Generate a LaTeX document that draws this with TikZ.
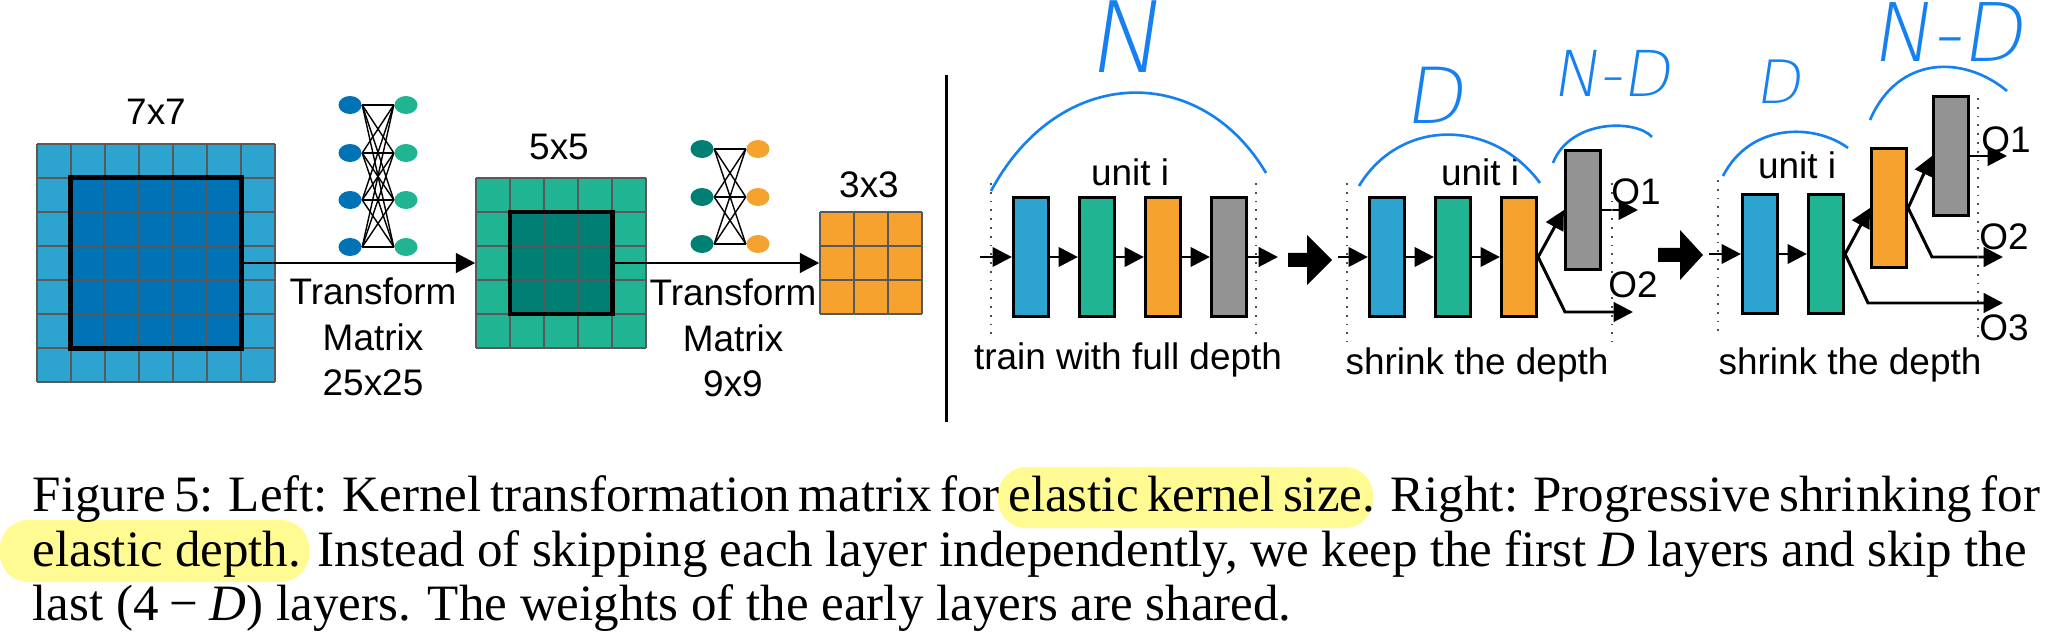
\documentclass[tikz,border=0pt]{standalone}
\usepackage{fontspec}
\setmainfont{Liberation Serif}
\setsansfont{Liberation Sans}
\newfontfamily\handfont{DejaVu Sans ExtraLight}
\usetikzlibrary{arrows.meta,positioning,shapes.geometric}
\definecolor{kblue}{RGB}{45,164,207}
\definecolor{kdblue}{RGB}{0,115,183}
\definecolor{kgreen}{RGB}{32,180,147}
\definecolor{kteal}{RGB}{0,127,116}
\definecolor{korange}{RGB}{246,162,47}
\definecolor{kgray}{RGB}{147,147,147}
\definecolor{kink}{RGB}{22,128,240}
\definecolor{khl}{RGB}{255,250,145}

\begin{document}
\begin{tikzpicture}[x=0.01cm, y=-0.01cm,
    lbl/.style={font=\sffamily\fontsize{10.5}{13}\selectfont, align=center, inner sep=0pt},
    cellline/.style={draw=black!65, line width=0.45pt},
    kbox/.style={rectangle, draw=black, line width=1.4pt, inner sep=0pt},
    neuron/.style={ellipse, minimum width=0.23cm, minimum height=0.18cm, inner sep=0pt},
    wire/.style={black, line width=0.4pt},
    arr/.style={-{Triangle[length=5.5pt, width=5.5pt]}, line width=0.85pt},
    layer/.style={rectangle, draw=black, line width=0.9pt, minimum width=0.35cm, minimum height=1.19cm, inner sep=0pt},
    sep/.style={draw=black!70, dotted, line width=0.5pt},
    ink/.style={draw=kink, line width=0.75pt},
    inktext/.style={text=kink, inner sep=0pt, xslant=0.15},
    capline/.style={font=\fontsize{14.5}{15.5}\selectfont, inner sep=0pt, anchor=base west}
  ]
    \useasboundingbox (0,0) rectangle (2055,640);
    % 7x7 kernel
    \fill[kblue] (37,144) rectangle (275,382);
    \fill[kdblue] (71,178) rectangle (241,348);
    \foreach \i in {0,...,7} {
      \draw[cellline] (37+34*\i,144) -- (37+34*\i,382);
      \draw[cellline] (37,144+34*\i) -- (275,144+34*\i);
    }
    \node[inner sep=0pt, minimum size=2.38cm] (k7) at (156,263) {};
    \node[kbox, minimum size=1.70cm] (k7in) at (156,263) {};
    \node[lbl] (t7) at (156,112) {7x7};
    % first transform net
    \foreach \y [count=\i] in {105,153,200,247} {
      \node[neuron, fill=kdblue] (a\i) at (350,\y) {};
      \node[neuron, fill=kgreen] (b\i) at (406,\y) {};
    }
    \foreach \i in {1,...,4} \foreach \j in {1,...,4}
      \draw[wire] (a\i.east) -- (b\j.west);
    \node[lbl] (m25) at (373,337) {Transform\\Matrix\\25x25};
    % 5x5 kernel
    \fill[kgreen] (476,178) rectangle (646,348);
    \fill[kteal] (510,212) rectangle (612,314);
    \foreach \i in {0,...,5} {
      \draw[cellline] (476+34*\i,178) -- (476+34*\i,348);
      \draw[cellline] (476,178+34*\i) -- (646,178+34*\i);
    }
    \node[inner sep=0pt, minimum size=1.70cm] (k5) at (561,263) {};
    \node[kbox, minimum size=1.02cm] (k5in) at (561,263) {};
    \node[lbl] (t5) at (559,147) {5x5};
    \draw[arr] (k7in.east) -- (k5.west);
    % second transform net
    \foreach \y [count=\i] in {149,197,244} {
      \node[neuron, fill=kteal] (c\i) at (702,\y) {};
      \node[neuron, fill=korange] (d\i) at (758,\y) {};
    }
    \foreach \i in {1,...,3} \foreach \j in {1,...,3}
      \draw[wire] (c\i.east) -- (d\j.west);
    \node[lbl] (m9) at (733,338) {Transform\\Matrix\\9x9};
    % 3x3 kernel
    \fill[korange] (820,212) rectangle (922,314);
    \foreach \i in {0,...,3} {
      \draw[cellline] (820+34*\i,212) -- (820+34*\i,314);
      \draw[cellline] (820,212+34*\i) -- (922,212+34*\i);
    }
    \node[inner sep=0pt, minimum size=1.02cm] (k3) at (871,263) {};
    \node[lbl] (t3) at (869,185) {3x3};
    \draw[arr] (k5in.east) -- (k3.west);
    % divider
    \draw[line width=0.85pt] (946,75) -- (946,422);

    % full depth
    \node[layer, fill=kblue]   (p1a) at (1031,257) {};
    \node[layer, fill=kgreen]  (p1b) at (1097,257) {};
    \node[layer, fill=korange] (p1c) at (1163,257) {};
    \node[layer, fill=kgray]   (p1d) at (1229,257) {};
    \coordinate (p1in) at (980,257);
    \coordinate (p1out) at (1278,257);
    \draw[arr] (p1in) -- (p1a);
    \draw[arr] (p1a) -- (p1b);
    \draw[arr] (p1b) -- (p1c);
    \draw[arr] (p1c) -- (p1d);
    \draw[arr] (p1d) -- (p1out);
    \draw[sep] (991,183) -- (991,339);
    \draw[sep] (1256,183) -- (1256,339);
    \node[lbl] (u1) at (1130,172) {unit i};
    \node[lbl] (s1) at (1128,360) {train with full depth};
    \draw[ink] (991,191) .. controls (1060,63) and (1201,63) .. (1266,173);
    \node[inktext, font={\handfont\fontsize{28}{28}\selectfont}] (n1) at (1130,37) {N};
    \fill (1288,253) -- (1307,253) -- (1307,235) -- (1332,260) -- (1307,285) -- (1307,267) -- (1288,267) -- cycle;

    % shrink once
    \node[layer, fill=kblue]   (p2a) at (1387,257) {};
    \node[layer, fill=kgreen]  (p2b) at (1453,257) {};
    \node[layer, fill=korange] (p2c) at (1519,257) {};
    \node[layer, fill=kgray]   (p2d) at (1583,210) {};
    \coordinate (p2in) at (1338,257);
    \coordinate (p2o1) at (1638,210);
    \coordinate (p2k) at (1565,312);
    \coordinate (p2o2) at (1633,312);
    \draw[arr] (p2in) -- (p2a);
    \draw[arr] (p2a) -- (p2b);
    \draw[arr] (p2b) -- (p2c);
    \draw[arr] (p2c.east) -- (p2d.west);
    \draw[arr] (p2d.east) -- (p2o1);
    \draw[arr] (p2c.east) -- (p2k) -- (p2o2);
    \draw[sep] (1347,183) -- (1347,342);
    \draw[sep] (1612,183) -- (1612,342);
    \node[lbl] (o21) at (1636,192) {O1};
    \node[lbl] (o22) at (1633,285) {O2};
    \node[lbl] (u2) at (1480,172) {unit i};
    \node[lbl] (s2) at (1477,365) {shrink the depth};
    \draw[ink] (1359,186) .. controls (1400,118) and (1492,118) .. (1540,183);
    \draw[ink] (1553,163) .. controls (1570,119) and (1636,119) .. (1652,137);
    \node[inktext, font={\handfont\fontsize{22}{22}\selectfont}] (d2) at (1438,95) {D};
    \node[inktext, font={\handfont\fontsize{18}{18}\selectfont}] (nd2) at (1615,73) {N-D};
    \fill (1658,248) -- (1680,248) -- (1680,230) -- (1703,255) -- (1680,280) -- (1680,262) -- (1658,262) -- cycle;

    % shrink twice
    \node[layer, fill=kblue]   (p3a) at (1760,254) {};
    \node[layer, fill=kgreen]  (p3b) at (1826,254) {};
    \node[layer, fill=korange] (p3c) at (1889,208) {};
    \node[layer, fill=kgray]   (p3d) at (1951,156) {};
    \coordinate (p3in) at (1709,254);
    \coordinate (p3o1) at (2007,156);
    \coordinate (p3k2) at (1932,257);
    \coordinate (p3o2) at (2003,257);
    \coordinate (p3k3) at (1868,303);
    \coordinate (p3o3) at (2003,303);
    \draw[arr] (p3in) -- (p3a);
    \draw[arr] (p3a) -- (p3b);
    \draw[arr] (p3b.east) -- (p3c.west);
    \draw[arr] (p3c.east) -- (p3d.west);
    \draw[arr] (p3d.east) -- (p3o1);
    \draw[arr] (p3c.east) -- (p3k2) -- (p3o2);
    \draw[arr] (p3b.east) -- (p3k3) -- (p3o3);
    \draw[sep] (1718,180) -- (1718,337);
    \draw[sep] (1978,98) -- (1978,340);
    \node[lbl] (o31) at (2006,140) {O1};
    \node[lbl] (o32) at (2004,237) {O2};
    \node[lbl] (o33) at (2004,328) {O3};
    \node[lbl] (u3) at (1797,165) {unit i};
    \node[lbl] (s3) at (1850,365) {shrink the depth};
    \draw[ink] (1723,176) .. controls (1750,123) and (1814,123) .. (1848,148);
    \draw[ink] (1870,120) .. controls (1898,55) and (1964,55) .. (2007,91);
    \node[inktext, font={\handfont\fontsize{17}{17}\selectfont}] (d3) at (1782,82) {D};
    \node[inktext, font={\handfont\fontsize{23}{23}\selectfont}] (nd3) at (1952,32) {N-D};

    % caption
    \fill[khl, rounded corners=8pt] (998,467) rectangle (1373,528);
    \fill[khl, rounded corners=8pt] (0,520) rectangle (309,582);
    \node[capline] (cap1) at (32,511) {\hbox to 19.93cm{Figure 5: Left: Kernel transformation matrix for elastic kernel size. Right: Progressive shrinking for}};
    \node[capline] (cap2) at (32,566) {\hbox to 19.93cm{elastic depth. Instead of skipping each layer independently, we keep the first \textit{D} layers and skip the}};
    \node[capline] (cap3) at (32,620) {last (4\hspace{.22em}−\hspace{.22em}\textit{D}) layers. The weights of the early layers are shared.};
  \end{tikzpicture}
\end{document}
